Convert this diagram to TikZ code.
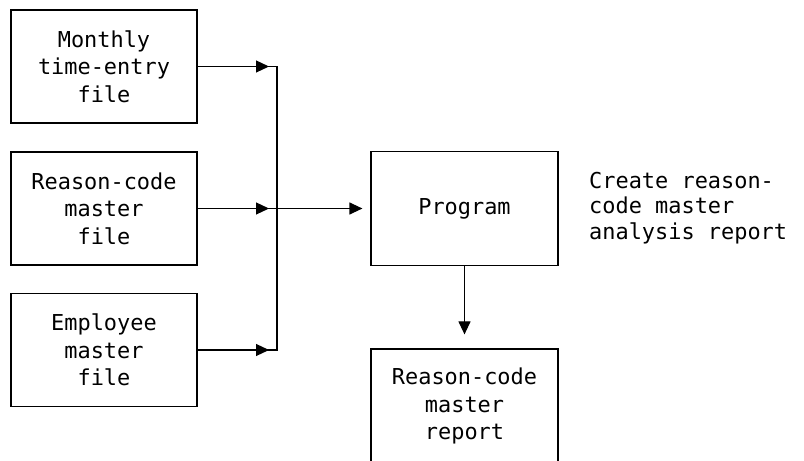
\documentclass[tikz,border=0pt]{standalone}
\usepackage{fontspec}
\setmonofont{DejaVu Sans Mono}
\usetikzlibrary{arrows.meta,positioning}

\begin{document}
\begin{tikzpicture}[x=1bp,y=-1bp,
  filebox/.style={draw,line width=1.2bp,minimum width=186bp,minimum height=113bp,
    align=center,inner sep=0pt,font=\ttfamily\fontsize{22}{27.5}\selectfont},
  flowline/.style={line width=1.2bp},
  flowarrow/.style={line width=1.2bp,-{Triangle[length=13bp,width=12bp]}}
]
  \useasboundingbox (0,0) rectangle (804,461);

  % Input files
  \node[filebox] (mon) at (104,66.5) {Monthly\\time-entry\\file};
  \node[filebox] (rsn) at (104,208.5) {Reason-code\\master\\file};
  \node[filebox] (emp) at (104,350) {Employee\\master\\file};

  % Program and output
  \node[filebox,minimum width=187bp,minimum height=114bp] (prog) at (464.5,208.5) {Program};
  \node[filebox,minimum width=187bp,minimum height=114bp] (rep) at (464.5,406) {Reason-code\\master\\report};
  \node[anchor=west,align=left,inner sep=0pt,font=\ttfamily\fontsize{22}{25.5}\selectfont] (note) at (589,208)
    {Create reason-\\code master\\analysis report};

  % Collector line
  \coordinate (jtop) at (277,66.5);
  \coordinate (jmid) at (277,208.5);
  \coordinate (jbot) at (277,350);
  \draw[flowline] (mon.east) -- (jtop) -- (jbot) -- (emp.east);
  \draw[flowarrow] (mon.east) -- ([xshift=-8bp]jtop);
  \draw[flowarrow] (rsn.east) -- ([xshift=-8bp]jmid);
  \draw[flowarrow] (emp.east) -- ([xshift=-8bp]jbot);
  \draw[flowarrow,shorten >=8bp] (rsn.east) -- (prog.west);

  % Program to report
  \draw[flowarrow,shorten >=14bp] (prog.south) -- (rep.north);
\end{tikzpicture}
\end{document}
